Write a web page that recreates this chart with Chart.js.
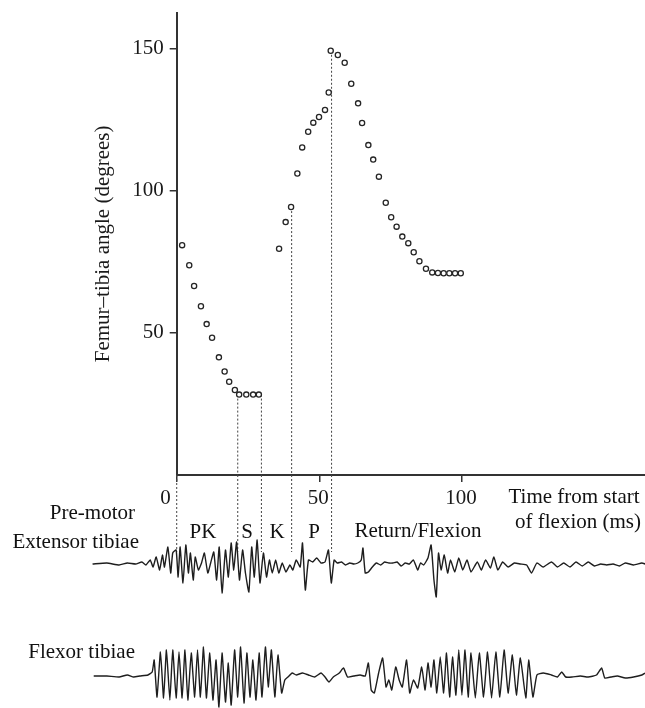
<!DOCTYPE html>
<html><head><meta charset="utf-8">
<script src="https://cdn.jsdelivr.net/npm/chart.js@4/dist/chart.umd.min.js"></script>
<style>
html,body{margin:0;padding:0;background:#fff;}
#wrap{position:relative;width:645px;height:708px;overflow:hidden;font-family:"Liberation Serif","DejaVu Serif",serif;color:#111;}
canvas{position:absolute;left:0;}
#cA{top:0;}
#cB{top:475px;}
.lbl{position:absolute;font-size:21px;line-height:1;white-space:nowrap;}
.c{transform:translateX(-50%);}
</style></head><body>
<div id="wrap">
<canvas id="cA" width="645" height="510"></canvas>
<canvas id="cB" width="645" height="233"></canvas>
<div class="lbl" style="right:510px;top:502px;">Pre-motor</div>
<div class="lbl" style="right:506px;top:531px;">Extensor tibiae</div>
<div class="lbl" style="right:510px;top:641px;">Flexor tibiae</div>
<div class="lbl c" style="left:203px;top:521px;">PK</div>
<div class="lbl c" style="left:247px;top:521px;">S</div>
<div class="lbl c" style="left:277px;top:521px;">K</div>
<div class="lbl c" style="left:314px;top:521px;">P</div>
<div class="lbl c" style="left:418px;top:520px;">Return/Flexion</div>
<div class="lbl c" style="left:574px;top:486px;">Time from start</div>
<div class="lbl c" style="left:578px;top:511px;">of flexion (ms)</div>
</div>
<script>
// ---- Femur-tibia angle (degrees) vs time from start of flexion (ms)
const angleT = [1.9,4.4,6.1,8.5,10.5,12.4,14.8,16.8,18.4,20.4,21.9,24.4,26.8,28.8,35.9,38.2,40.1,42.3,44.0,46.1,47.9,49.9,52.0,53.3,54.0,56.5,58.9,61.2,63.6,65.0,67.2,68.9,70.9,73.3,75.2,77.1,79.1,81.2,83.1,85.1,87.4,89.6,91.6,93.6,95.6,97.6,99.6];
const angleDeg = [80.9,73.8,66.5,59.4,53.1,48.3,41.4,36.4,32.8,29.9,28.3,28.3,28.3,28.3,79.6,89.0,94.3,106.1,115.3,120.8,124.0,126.0,128.5,134.6,149.3,147.8,145.1,137.7,130.8,123.9,116.1,111.0,105.0,95.8,90.7,87.4,83.9,81.6,78.4,75.2,72.6,71.3,71.1,71.0,71.0,71.0,71.0];

// ---- Phase boundaries (ms) and the angle where each dashed marker starts
const phaseNames = ['PK','S','K','P','Return/Flexion'];
const phaseStart = [0, 21.4, 29.7, 40.3, 54.3];
const phaseStartAngle = [0, 28.3, 28.3, 94.3, 149.3];

// ---- Tick labels
const xTicks = [0, 50, 100];
const yTicks = [50, 100, 150];

// ---- EMG traces (time ms, amplitude arbitrary units)
const extT = [-29.5,-24.5,-20.2,-17.3,-14.4,-12.2,-10.8,-9.3,-8.3,-7.2,-6.0,-5.0,-4.3,-3.1,-2.1,-1.4,-0.2,0.5,1.2,2.2,3.2,4.1,4.8,5.8,6.5,7.6,8.7,9.7,10.9,11.9,13.0,14.0,14.9,15.9,17.1,18.1,19.1,20.0,21.0,22.0,23.1,24.1,25.3,26.3,27.2,28.2,29.2,30.4,31.5,32.5,33.5,34.7,35.8,37.0,38.3,39.7,40.7,41.9,43.3,44.1,45.1,46.2,47.7,49.1,50.6,52.0,53.2,54.2,55.2,56.3,57.8,59.2,60.7,62.1,63.5,64.7,65.3,66.1,67.2,68.6,70.0,71.5,72.9,74.4,75.8,77.3,78.7,80.1,81.6,83.0,84.5,85.5,86.6,88.1,89.2,90.2,91.0,91.8,92.7,93.8,95.0,96.0,97.5,98.9,100.3,101.8,103.2,105.4,106.8,108.3,110.0,111.2,112.6,114.3,116.2,118.4,120.5,122.7,124.4,126.3,128.5,131.4,133.5,135.7,137.9,140.0,142.2,144.3,146.5,148.7,150.8,153.0,155.2,157.3,160.2,163.1,164.3];
const extV = [0,0.1,-0.1,0.1,0,0.2,-0.1,0.4,-0.3,0.7,-0.6,0.9,-0.3,1.7,-0.9,1.1,1.4,-1.3,1.7,-1.9,1.9,-0.9,1.1,-1.6,0.7,-0.6,0.1,1.1,-0.9,0.1,1.2,-1.6,1.7,-2.9,1.4,-1.3,2.1,-0.6,2.2,-1.6,1.4,-0.9,-2.8,1.7,-1.3,2.4,-1.9,1.1,-1.3,0.4,-0.9,0.4,-0.9,0.1,-0.8,-0.1,-0.6,0.4,-0.3,2.1,-2.6,0.4,0.2,0.6,0.1,0.2,1.4,-1.9,0.4,0.1,0.2,-0.1,0.1,0,0.1,0.4,1.6,-0.9,-0.8,-0.3,0.1,-0.1,0.2,0.1,0.1,0.2,-0.2,0.1,0,0.4,-0.6,0.1,-0.1,0.6,1.9,-1.6,-3.3,1.1,-0.6,0.9,-0.9,0.4,-0.8,0.6,-0.6,0.4,-0.8,0.2,-0.6,0.4,-0.4,0.7,-0.6,0.2,-0.3,0.1,0,-0.1,-0.9,0.1,-0.3,0.2,-0.3,0.1,-0.3,0.2,-0.2,0.2,-0.2,0,-0.1,0,-0.2,0.1,-0.1,0.1,0];
const flxT = [-29.1,-24.5,-20.2,-17.3,-15.1,-12.9,-10.1,-8.6,-7.9,-6.9,-5.7,-4.6,-3.6,-2.4,-1.4,-0.2,0.8,1.9,2.9,3.9,5.1,6.3,7.3,8.3,9.4,10.4,11.6,12.7,13.8,14.8,15.9,17.1,18.1,19.1,20.3,21.4,22.4,23.6,24.6,25.7,26.7,27.8,28.9,29.9,31.1,32.1,33.2,34.4,35.5,36.8,37.9,39.0,40.5,41.9,44.1,46.2,48.4,50.6,52.0,53.4,54.9,57.0,58.5,59.9,62.1,64.3,66.1,67.2,68.2,69.3,70.8,72.2,73.4,74.4,75.4,76.8,78.0,79.1,80.6,81.7,83.0,84.5,85.9,87.1,88.1,89.2,90.2,91.2,92.4,93.6,94.6,95.7,96.7,97.9,98.9,100.0,101.1,102.2,103.2,104.7,106.1,107.6,109.0,110.4,111.9,113.3,114.8,116.2,117.7,119.1,120.5,122.4,123.4,124.9,126.3,128.5,131.4,133.5,135.0,136.4,138.6,141.5,144.3,147.2,149.0,150.1,152.3,154.5,157.3,160.2,163.1,164.3];
const flxV = [0,0,-0.1,0.1,-0.1,0,0.1,0.4,1.6,-2.1,2.4,-2.2,2.6,-2.4,2.6,-2.2,2.4,-2.2,2.6,-2.4,2.3,-2.1,2.6,-2.1,2.9,-2.2,2.3,-2.4,1.6,-3.1,2.3,-2.6,1.3,-2.9,2.6,-2.1,2.9,-2.7,2.3,-2.1,1.6,-2.4,2.3,-2.1,2.9,-1.1,2.6,-2.1,2.1,-1.7,-0.4,-0.1,0.3,0.1,0.3,0.1,-0.1,0.3,-0.1,-0.6,-0.1,0.3,0.8,-0.1,0,0.1,0,1.3,-1.4,-1.7,0.3,1.8,-1.1,-0.4,-1.4,0.9,-0.4,-1.1,1.6,-1.7,-0.4,-1.2,0.9,-1.4,1.3,-1.1,1.6,-1.7,1.9,-1.7,2.3,-2.1,1.9,-1.9,2.6,-1.9,2.6,-2.1,2.3,-2.2,2.3,-2.1,2.4,-2.2,2.4,-2.1,2.6,-1.7,2.1,-1.9,1.8,-2.2,1.6,-2.1,0.1,0.3,0.1,-0.1,0.4,-0.1,-0.1,0,-0.1,0.1,0.8,-0.2,-0.1,0,-0.2,-0.1,0.1,0.3];

const FONT = '"Liberation Serif", "DejaVu Serif", serif';
const INK = '#1a1a1a';
const X_MAX = 164.2;

const xTickLabelPlugin = {
  id: 'xTickLabels',
  afterDraw(chart) {
    const s = chart.scales.x, ctx = chart.ctx;
    ctx.save();
    ctx.font = '21px ' + FONT;
    ctx.fillStyle = INK;
    ctx.textBaseline = 'middle';
    s.ticks.forEach(t => {
      const px = s.getPixelForValue(t.value);
      const atOrigin = t.value === s.min;
      ctx.textAlign = atOrigin ? 'right' : 'center';
      ctx.fillText(String(t.value), atOrigin ? px - 6 : px - 1, s.top + 23);
    });
    ctx.restore();
  }
};

const markerSets = (yTop, yBottom, axisId) => phaseStart.map((t, i) => ({
  type: 'line',
  data: [{x: t, y: yTop(i)}, {x: t, y: yBottom}],
  yAxisID: axisId,
  borderColor: '#444',
  borderWidth: 1,
  borderDash: [2, 2],
  pointRadius: 0,
  fill: false,
  order: 2
}));

function noPad(s) {
  s.paddingTop = 0; s.paddingBottom = 0; s.paddingLeft = 0; s.paddingRight = 0;
}

new Chart(document.getElementById('cA'), {
  type: 'scatter',
  data: {
    datasets: [
      {
        data: angleT.map((t, i) => ({x: t, y: angleDeg[i]})),
        pointStyle: 'circle',
        pointRadius: 2.6,
        pointBorderWidth: 1.3,
        borderColor: '#262626',
        backgroundColor: '#ffffff',
        showLine: false,
        order: 0
      },
      ...markerSets(i => phaseStartAngle[i], 0, 'y')
    ]
  },
  options: {
    responsive: false,
    animation: false,
    devicePixelRatio: 1,
    layout: {autoPadding: false, padding: {top: 12.7, left: 0, right: 0, bottom: 0}},
    plugins: {legend: {display: false}, tooltip: {enabled: false}},
    scales: {
      x: {
        type: 'linear', min: 0, max: X_MAX,
        afterFit(s) { s.height = 35; noPad(s); },
        afterBuildTicks(s) { s.ticks = xTicks.map(v => ({value: v})); },
        ticks: {display: false},
        grid: {drawOnChartArea: false, drawTicks: true, tickLength: 7, color: '#333', lineWidth: 1.5},
        border: {display: true, color: '#333', width: 2}
      },
      y: {
        type: 'linear', min: 0, max: 162.7,
        afterFit(s) { s.width = 176.7; noPad(s); },
        afterBuildTicks(s) { s.ticks = yTicks.map(v => ({value: v})); },
        ticks: {color: INK, font: {family: FONT, size: 21}, padding: 6},
        grid: {drawOnChartArea: false, drawTicks: true, tickLength: 7, color: '#333', lineWidth: 1.5},
        border: {display: true, color: '#333', width: 2},
        title: {display: true, text: 'Femur–tibia angle (degrees)', color: INK, font: {family: FONT, size: 21}, padding: {top: 90.4, bottom: 0}}
      }
    }
  },
  plugins: [xTickLabelPlugin]
});

const EXT_MIN = -14.4, EXT_MAX = 8.9;
const FLX_MIN = -3.2, FLX_MAX = 20.1;
const MARK_END = 1.2;

new Chart(document.getElementById('cB'), {
  type: 'line',
  data: {
    datasets: [
      {data: extT.map((t, i) => ({x: t, y: extV[i]})), yAxisID: 'yExt', borderColor: '#1e1e1e', borderWidth: 1.4, pointRadius: 0, tension: 0.15, fill: false, order: 0},
      {data: flxT.map((t, i) => ({x: t, y: flxV[i]})), yAxisID: 'yFlx', borderColor: '#1e1e1e', borderWidth: 1.4, pointRadius: 0, tension: 0.15, fill: false, order: 0},
      ...markerSets(() => EXT_MAX, MARK_END, 'yExt')
    ]
  },
  options: {
    responsive: false,
    animation: false,
    devicePixelRatio: 1,
    layout: {autoPadding: false, padding: 0},
    plugins: {legend: {display: false}, tooltip: {enabled: false}},
    scales: {
      x: {type: 'linear', min: -61.96, max: X_MAX, display: false},
      yExt: {type: 'linear', min: EXT_MIN, max: EXT_MAX, display: false},
      yFlx: {type: 'linear', min: FLX_MIN, max: FLX_MAX, display: false}
    }
  }
});
</script>
</body></html>
